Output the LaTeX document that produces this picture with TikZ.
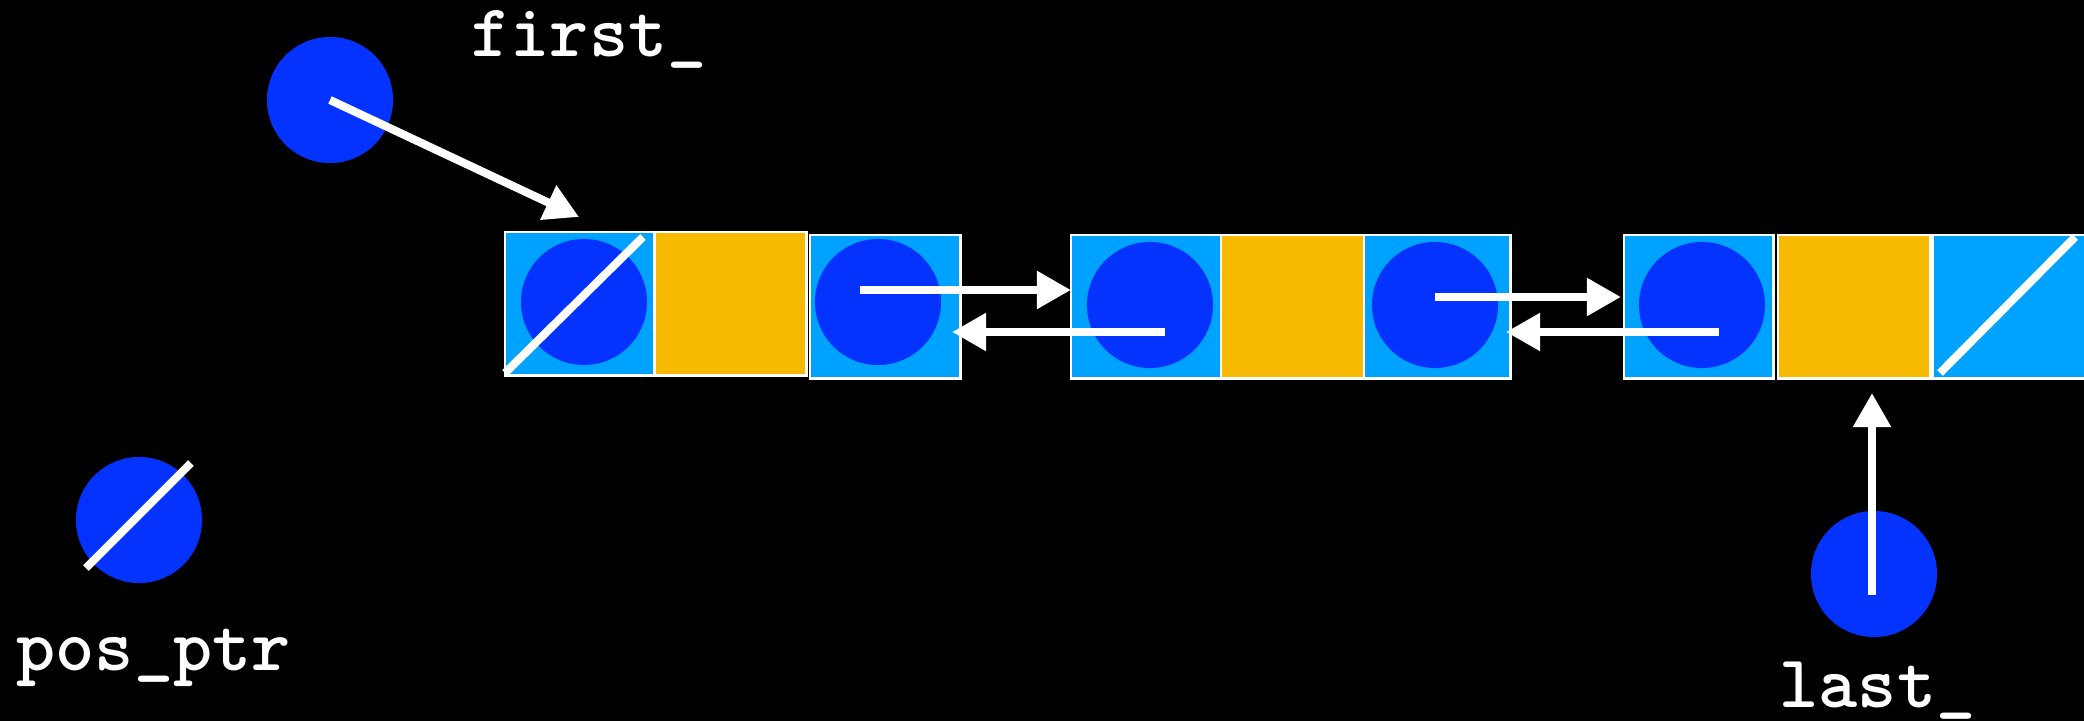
\documentclass[tikz,border=0pt]{standalone}
\usepackage{fontspec}
\usetikzlibrary{arrows.meta}
\definecolor{cellblue}{HTML}{00A2FF}
\definecolor{ptrblue}{HTML}{0433FF}
\definecolor{dataylw}{HTML}{F8BA00}
\begin{document}
\begin{tikzpicture}[x=0.01cm,y=-0.01cm,
  cellbox/.style={draw=white, line width=0.7pt, fill=cellblue, inner sep=0pt, anchor=north west, minimum height=1.43cm},
  databox/.style={cellbox, fill=dataylw},
  ptrdot/.style={circle, fill=ptrblue, inner sep=0pt, minimum size=1.26cm},
  link/.style={white, line width=2.3pt, -{Triangle[length=0.34cm,width=0.36cm]}},
  nullbar/.style={white, line width=2.3pt},
  lbl/.style={white, inner sep=0pt, anchor=base west, font=\fontsize{21.2pt}{23pt}\selectfont\ttfamily\bfseries\addfontfeatures{FakeBold=2.2}}]
\fill[black] (0,0) rectangle (2084,721);
\path[use as bounding box] (0,0) rectangle (2084,721);

% node 1
\node[cellbox, minimum width=1.49cm] (a1) at (504,231) {};
\node[databox, minimum width=1.51cm] (a2) at (654,231) {};
\node[cellbox, minimum width=1.50cm] (a3) at (809,234) {};
% node 2
\node[cellbox, minimum width=1.50cm] (b1) at (1070,234) {};
\node[databox, minimum width=1.43cm] (b2) at (1220,234) {};
\node[cellbox, minimum width=1.46cm] (b3) at (1363,234) {};
% node 3
\node[cellbox, minimum width=1.49cm] (c1) at (1623,234) {};
\node[databox, minimum width=1.52cm] (c2) at (1777,234) {};
\node[cellbox, minimum width=1.52cm] (c3) at (1932,234) {};

% pointer circles inside cells
\node[ptrdot] (pa1) at (584,302) {};
\node[ptrdot] (pa3) at (878,302) {};
\node[ptrdot] (pb1) at (1150,305) {};
\node[ptrdot] (pb3) at (1435,305) {};
\node[ptrdot] (pc1) at (1702,305) {};

% external pointers
\node[ptrdot] (pfirst) at (330,100) {};
\node[ptrdot] (ppos) at (139,520) {};
\node[ptrdot] (plast) at (1874,574) {};

% labels
\node[lbl] (tfirst) at (471,57) {first\_};
\node[lbl] (tpos) at (16,670) {pos\_ptr};
\node[lbl] (tlast) at (1779,707) {last\_};

% null slashes
\draw[nullbar] (505,373) -- (643,237);
\draw[nullbar] (1940,373) -- (2075,237);
\draw[nullbar] (86,568) -- (191,463);

% connector end points
\coordinate (f1) at (579,217);
\coordinate (s1) at (860,290);
\coordinate (e1) at (1071,290);
\coordinate (s2) at (1165,332);
\coordinate (e2) at (952,332);
\coordinate (s3) at (1435,297);
\coordinate (e3) at (1621,297);
\coordinate (s4) at (1719,332);
\coordinate (e4) at (1506,332);
\coordinate (sl) at (1872,595);
\coordinate (el) at (1872,393);

\draw[link] (pfirst.center) -- (f1);
\draw[link] (s1) -- (e1);
\draw[link] (s2) -- (e2);
\draw[link] (s3) -- (e3);
\draw[link] (s4) -- (e4);
\draw[link] (sl) -- (el);
\end{tikzpicture}
\end{document}
